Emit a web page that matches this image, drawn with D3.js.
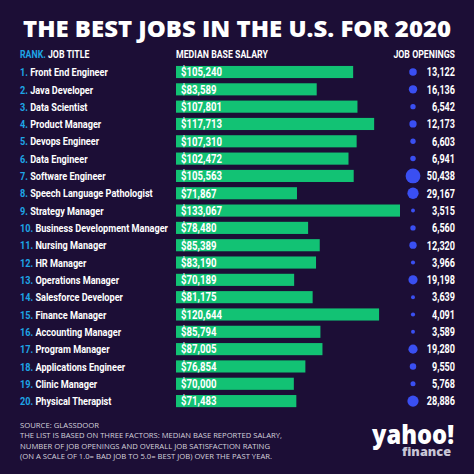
<!DOCTYPE html>
<html>
<head>
<meta charset="utf-8">
<script src="https://cdn.jsdelivr.net/npm/d3@7"></script>
<style>
html,body{margin:0;padding:0;background:#1c0e36;}
svg{display:block;}
</style>
</head>
<body>
<svg id="chart" width="474" height="474"></svg>
<script>
const jobs = ["Front End Engineer","Java Developer","Data Scientist","Product Manager","Devops Engineer","Data Engineer","Software Engineer","Speech Language Pathologist","Strategy Manager","Business Development Manager","Nursing Manager","HR Manager","Operations Manager","Salesforce Developer","Finance Manager","Accounting Manager","Program Manager","Applications Engineer","Clinic Manager","Physical Therapist"];
const salaries = [105240,83589,107801,117713,107310,102472,105563,71867,133067,78480,85389,83190,70189,81175,120644,85794,87005,76854,70000,71483];
const openings = [13122,16136,6542,12173,6603,6941,50438,29167,3515,6560,12320,3966,19198,3639,4091,3589,19280,9550,5768,28886];
const footerLines = ["SOURCE:  GLASSDOOR","THE LIST IS BASED ON THREE FACTORS: MEDIAN BASE REPORTED SALARY,","NUMBER OF JOB OPENINGS AND OVERALL JOB SATISFACTION RATING","(ON A SCALE OF 1.0= BAD JOB TO 5.0= BEST JOB) OVER THE PAST YEAR."];

const svg = d3.select("#chart");
svg.append("rect").attr("width",474).attr("height",474).attr("fill","#1c0e36");

const FAM = "Roboto, 'Liberation Sans', sans-serif";
function measure(str, size){
  const t = svg.append("text").attr("font-family",FAM).attr("font-weight","bold").attr("font-size",size).text(str);
  const w = t.node().getComputedTextLength(); t.remove(); return w;
}
// horizontal condensing factors calibrated to the reference
const sTitle = 88/measure("1. Front End Engineer",11.5);
const sSal = 41/measure("$105,240",12);
const sNum = 28.3/measure("13,122",12);
const sHdr = 92/measure("MEDIAN BASE SALARY",10);

function ctext(parent, x, yy, size, sx, anchor){
  return parent.append("g").attr("transform",`translate(${x},${yy}) scale(${sx},1)`)
    .append("text").attr("font-family",FAM).attr("font-weight","bold").attr("font-size",size)
    .attr("fill","#ffffff").attr("text-anchor",anchor||"start");
}

// Title
svg.append("text").attr("x",23).attr("y",37)
  .attr("font-family","'Open Sans',Lato,sans-serif").attr("font-weight",800)
  .attr("font-size",23.5).attr("fill","#ffffff")
  .attr("textLength",428).attr("lengthAdjust","spacingAndGlyphs")
  .text("THE BEST JOBS IN THE U.S. FOR 2020");

// Headers
const hdr = ctext(svg,20,58,10,sHdr);
hdr.append("tspan").attr("fill","#1ea5e6").text("RANK.");
hdr.append("tspan").text(" JOB TITLE");
ctext(svg,176,58,10,sHdr).text("MEDIAN BASE SALARY");
ctext(svg,455,58,10,sHdr,"end").text("JOB OPENINGS");

// Scales
const y = d3.scaleBand().domain(d3.range(jobs.length)).range([63.35, 409.75]).paddingInner(0.3).paddingOuter(0.15);
const x = d3.scaleLinear().domain([0,133067]).range([176,400]);
const r = d3.scaleSqrt().domain([0,50438]).range([0,7.4]);
const fmt = d3.format(",");
const bh = y.bandwidth();
const cy = bh/2;

jobs.forEach((d,i)=>{
  const g = svg.append("g").attr("transform",`translate(0,${y(i)})`);
  const t = ctext(g,20,cy+4.2,11.5,sTitle);
  t.append("tspan").attr("fill","#1ea5e6").text((i+1)+".");
  t.append("tspan").text(" "+d);
  g.append("rect").attr("x",x(0)).attr("y",0).attr("height",bh)
    .attr("width",x(salaries[i])-x(0)).attr("fill","#12c274");
  ctext(g,x(0)+5,cy+4.3,12,sSal).text("$"+fmt(salaries[i]));
  g.append("circle").attr("cx",413).attr("cy",cy).attr("r",r(openings[i])).attr("fill","#3a4ff2");
  ctext(g,455,cy+4.3,12,sNum,"end").text(fmt(openings[i]));
});

// Footer
const fw=[79,262,250,252];
svg.append("g").selectAll("text").data(footerLines).join("text")
  .attr("x",20).attr("y",(d,i)=>428+i*10.3)
  .attr("font-family","'Open Sans',sans-serif").attr("font-size",7.4).attr("fill","#d4d2dc")
  .attr("textLength",(d,i)=>fw[i]).attr("lengthAdjust","spacingAndGlyphs")
  .text(d=>d);

// Logo (single text element with two lines)
const logo = svg.append("text").attr("font-family","'Open Sans',sans-serif").attr("font-weight",800);
logo.append("tspan").attr("x",372).attr("y",444).attr("font-size",27).attr("fill","#ffffff")
  .attr("textLength",82).attr("lengthAdjust","spacingAndGlyphs").text("yahoo!");
logo.append("tspan").attr("x",402).attr("y",456).attr("font-size",13).attr("fill","#c9c6d6")
  .attr("textLength",49).attr("lengthAdjust","spacingAndGlyphs").text("finance");
</script>
</body>
</html>
